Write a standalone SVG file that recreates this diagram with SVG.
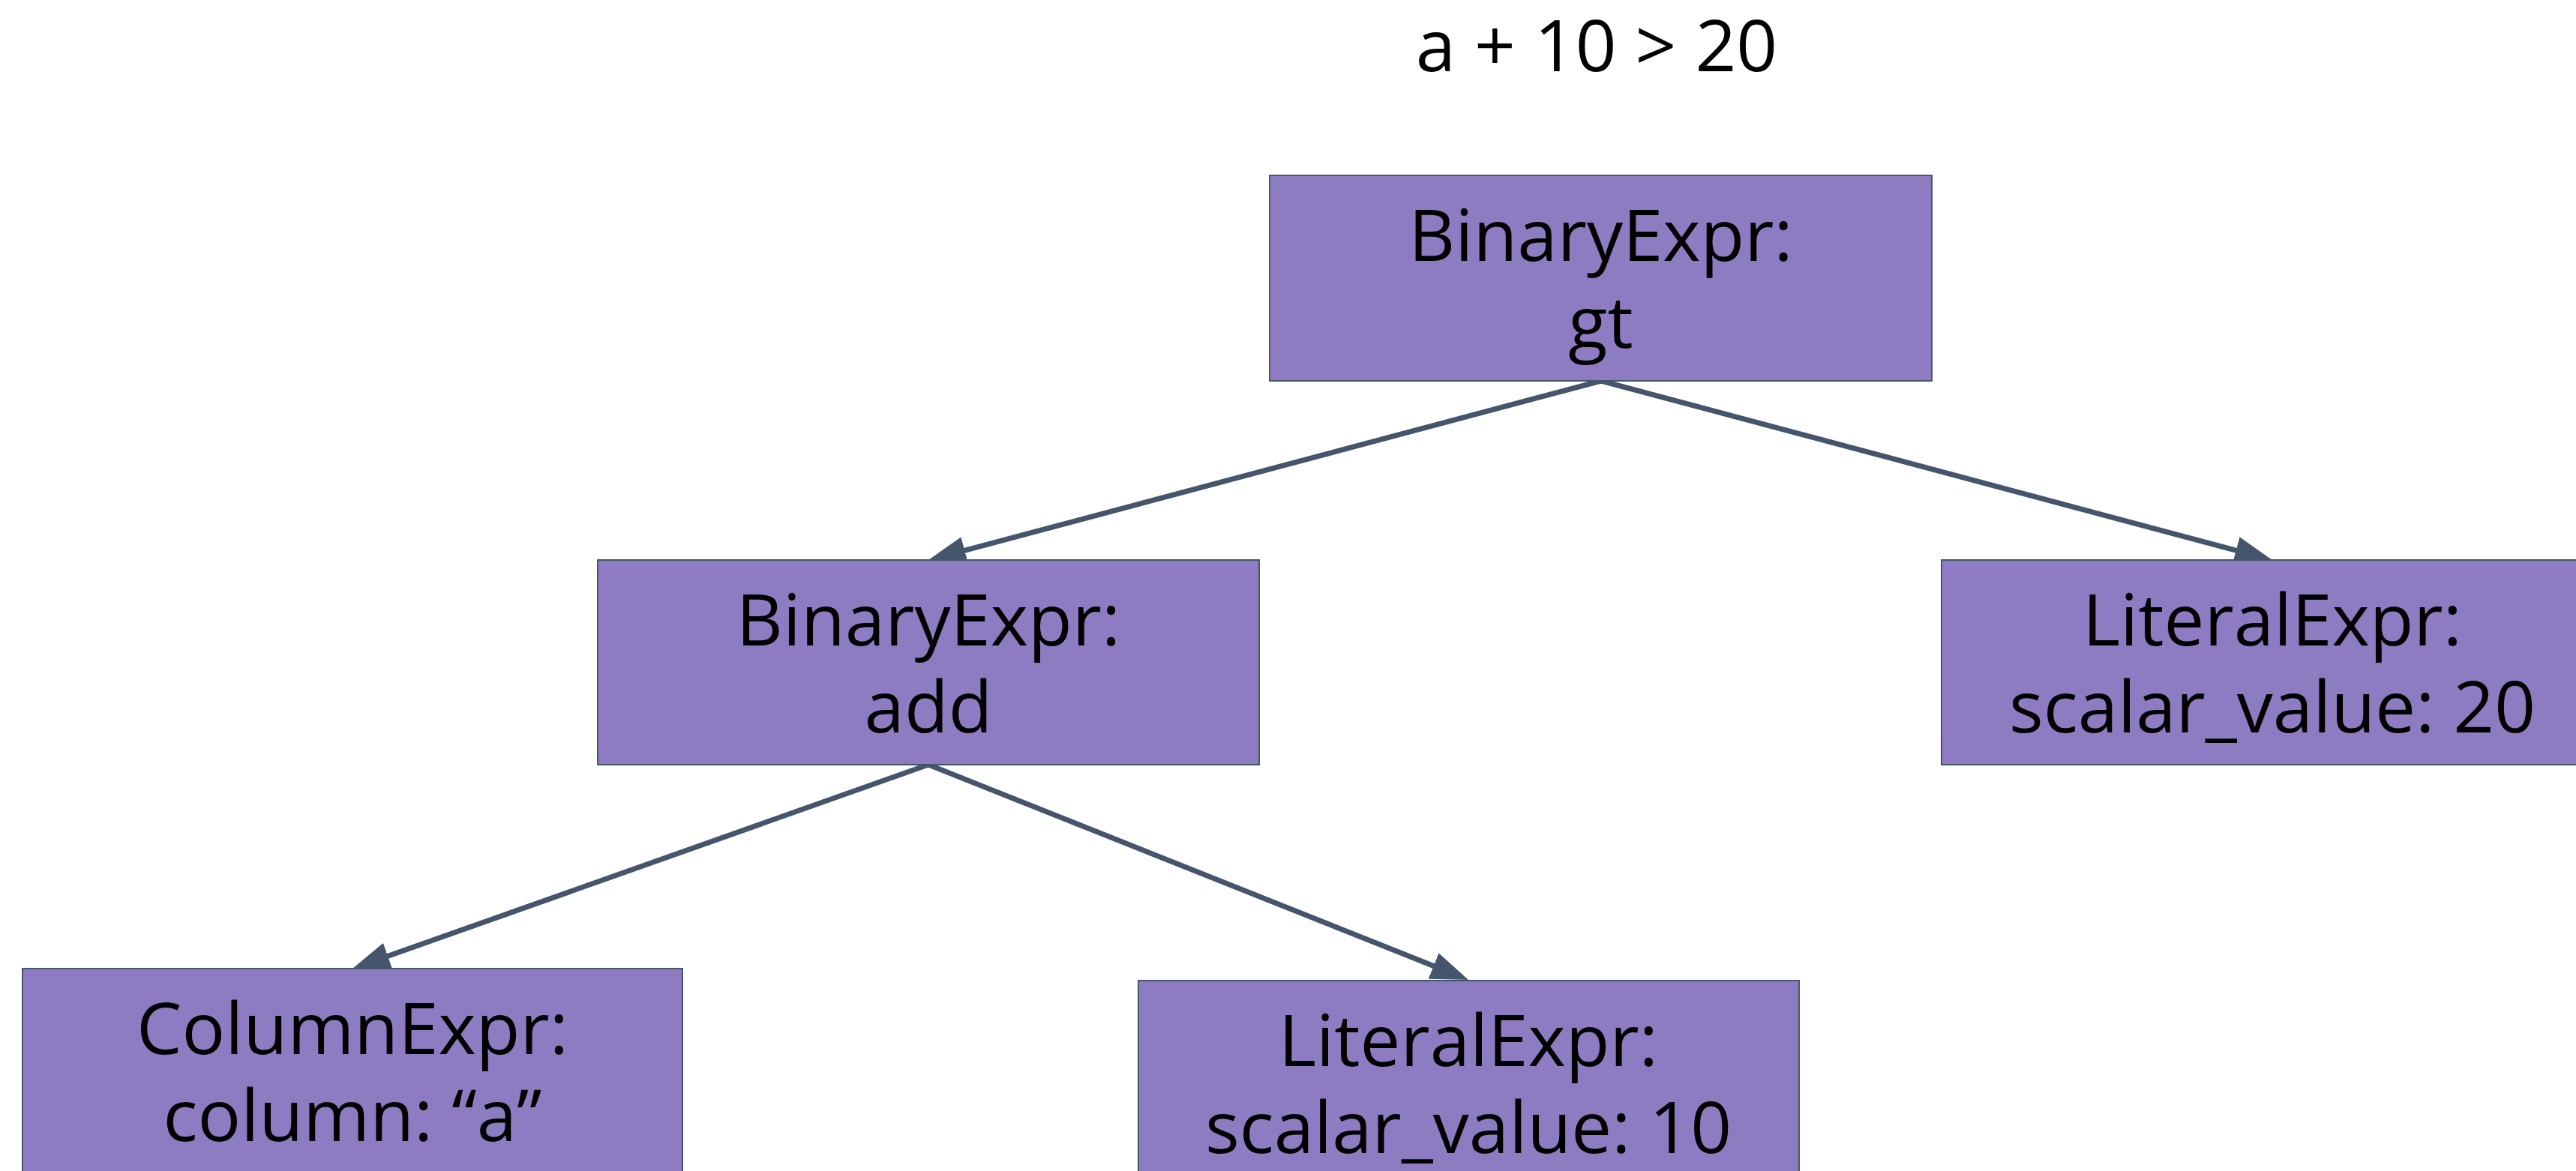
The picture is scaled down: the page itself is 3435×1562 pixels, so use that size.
<svg xmlns="http://www.w3.org/2000/svg" width="3435" height="1562" viewBox="0 0 3435 1562">
  <style>
    .box { fill: #8e7cc3; stroke: #45556c; stroke-width: 2; }
    .lbl { font-family: "Open Sans", "Noto Sans", sans-serif; font-size: 96px; fill: #000000; text-anchor: middle; }
    .edge { stroke: #45556c; stroke-width: 7; fill: none; marker-end: url(#arrow); }
  </style>
  <defs>
    <marker id="arrow" viewBox="0 0 10 7.4" refX="5" refY="3.7" markerUnits="userSpaceOnUse" markerWidth="50" markerHeight="37" orient="auto">
      <path d="M0,0 L10,3.7 L0,7.4 z" fill="#45556c"/>
    </marker>
  </defs>
  <rect width="3435" height="1562" fill="#ffffff"/>

  <text id="title" class="lbl" x="2129" y="95">a + 10 &gt; 20</text>

  <g id="connectors">
    <line class="edge" x1="2135" y1="508" x2="1262.2" y2="740.6"/>
    <line class="edge" x1="2135" y1="508" x2="3005.8" y2="740.6"/>
    <line class="edge" x1="1238" y1="1020" x2="493.6" y2="1283.7"/>
    <line class="edge" x1="1238" y1="1020" x2="1934.8" y2="1297.7"/>
  </g>

  <g id="node-gt">
    <rect class="box" x="1693" y="234" width="883" height="274"/>
    <text class="lbl" x="2134.5" y="348">BinaryExpr:</text>
    <text class="lbl" x="2134.5" y="464">gt</text>
  </g>

  <g id="node-add">
    <rect class="box" x="797" y="747" width="882" height="273"/>
    <text class="lbl" x="1238" y="861">BinaryExpr:</text>
    <text class="lbl" x="1238" y="977">add</text>
  </g>

  <g id="node-lit20">
    <rect class="box" x="2589" y="747" width="882" height="273"/>
    <text class="lbl" x="3030" y="861">LiteralExpr:</text>
    <text class="lbl" x="3030" y="977">scalar_value: 20</text>
  </g>

  <g id="node-column">
    <rect class="box" x="30" y="1292" width="880" height="274"/>
    <text class="lbl" x="470" y="1406">ColumnExpr:</text>
    <text class="lbl" x="470" y="1522">column: “a”</text>
  </g>

  <g id="node-lit10">
    <rect class="box" x="1518" y="1308" width="881" height="274"/>
    <text class="lbl" x="1958" y="1422">LiteralExpr:</text>
    <text class="lbl" x="1958" y="1538">scalar_value: 10</text>
  </g>
</svg>
